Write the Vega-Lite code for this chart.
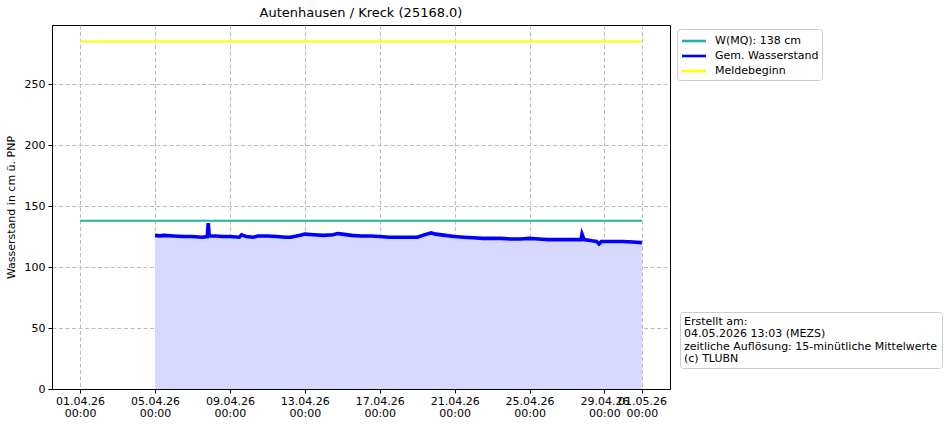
{
  "$schema": "https://vega.github.io/schema/vega-lite/v6.json",
  "description": "Wasserstand Autenhausen / Kreck, April 2026",
  "width": 618,
  "height": 364,
  "autosize": {"type": "none"},
  "padding": {"left": 52, "top": 25, "right": 278, "bottom": 37},
  "background": "white",
  "title": {
    "text": "Autenhausen / Kreck (25168.0)",
    "font": "DejaVu Sans",
    "fontSize": 13,
    "fontWeight": "normal",
    "color": "black",
    "anchor": "middle",
    "offset": 5
  },
  "config": {
    "font": "DejaVu Sans",
    "view": {"stroke": "black", "strokeWidth": 1},
    "axis": {
      "labelFont": "DejaVu Sans",
      "labelFontSize": 11,
      "labelColor": "black",
      "titleFont": "DejaVu Sans",
      "titleFontSize": 11,
      "titleFontWeight": "normal",
      "titleColor": "black",
      "domainColor": "black",
      "tickColor": "black",
      "tickSize": 4,
      "gridColor": "#bbbbbb",
      "gridDash": [4, 2.5],
      "gridWidth": 1
    }
  },
  "datasets": {
    "lines": [
      {"series": "W(MQ): 138 cm", "time": "2026-04-01T00:00:00", "value": 138},
      {"series": "W(MQ): 138 cm", "time": "2026-05-01T00:00:00", "value": 138},
      {"series": "Meldebeginn", "time": "2026-04-01T00:00:00", "value": 285},
      {"series": "Meldebeginn", "time": "2026-05-01T00:00:00", "value": 285},
      {"series": "Gem. Wasserstand", "time": "2026-04-05T00:00:00", "value": 126},
      {"series": "Gem. Wasserstand", "time": "2026-04-05T06:00:00", "value": 125.6},
      {"series": "Gem. Wasserstand", "time": "2026-04-05T12:00:00", "value": 126},
      {"series": "Gem. Wasserstand", "time": "2026-04-06T00:00:00", "value": 125.5},
      {"series": "Gem. Wasserstand", "time": "2026-04-06T12:00:00", "value": 125},
      {"series": "Gem. Wasserstand", "time": "2026-04-07T00:00:00", "value": 125},
      {"series": "Gem. Wasserstand", "time": "2026-04-07T12:00:00", "value": 124.5},
      {"series": "Gem. Wasserstand", "time": "2026-04-07T19:00:00", "value": 125},
      {"series": "Gem. Wasserstand", "time": "2026-04-07T20:15:00", "value": 136},
      {"series": "Gem. Wasserstand", "time": "2026-04-07T21:30:00", "value": 125.5},
      {"series": "Gem. Wasserstand", "time": "2026-04-08T06:00:00", "value": 125.5},
      {"series": "Gem. Wasserstand", "time": "2026-04-08T14:00:00", "value": 125},
      {"series": "Gem. Wasserstand", "time": "2026-04-09T00:00:00", "value": 125},
      {"series": "Gem. Wasserstand", "time": "2026-04-09T12:00:00", "value": 124.5},
      {"series": "Gem. Wasserstand", "time": "2026-04-09T15:00:00", "value": 126.5},
      {"series": "Gem. Wasserstand", "time": "2026-04-09T21:00:00", "value": 125},
      {"series": "Gem. Wasserstand", "time": "2026-04-10T06:00:00", "value": 124.5},
      {"series": "Gem. Wasserstand", "time": "2026-04-10T12:00:00", "value": 125.5},
      {"series": "Gem. Wasserstand", "time": "2026-04-11T00:00:00", "value": 125.5},
      {"series": "Gem. Wasserstand", "time": "2026-04-11T12:00:00", "value": 125},
      {"series": "Gem. Wasserstand", "time": "2026-04-12T00:00:00", "value": 124.5},
      {"series": "Gem. Wasserstand", "time": "2026-04-12T06:00:00", "value": 124.5},
      {"series": "Gem. Wasserstand", "time": "2026-04-12T18:00:00", "value": 126},
      {"series": "Gem. Wasserstand", "time": "2026-04-13T00:00:00", "value": 127},
      {"series": "Gem. Wasserstand", "time": "2026-04-13T12:00:00", "value": 126.5},
      {"series": "Gem. Wasserstand", "time": "2026-04-14T00:00:00", "value": 126},
      {"series": "Gem. Wasserstand", "time": "2026-04-14T12:00:00", "value": 126.5},
      {"series": "Gem. Wasserstand", "time": "2026-04-14T18:00:00", "value": 127.5},
      {"series": "Gem. Wasserstand", "time": "2026-04-15T00:00:00", "value": 127},
      {"series": "Gem. Wasserstand", "time": "2026-04-15T12:00:00", "value": 126},
      {"series": "Gem. Wasserstand", "time": "2026-04-16T00:00:00", "value": 125.5},
      {"series": "Gem. Wasserstand", "time": "2026-04-16T12:00:00", "value": 125.5},
      {"series": "Gem. Wasserstand", "time": "2026-04-17T00:00:00", "value": 125},
      {"series": "Gem. Wasserstand", "time": "2026-04-17T12:00:00", "value": 124.5},
      {"series": "Gem. Wasserstand", "time": "2026-04-18T00:00:00", "value": 124.5},
      {"series": "Gem. Wasserstand", "time": "2026-04-18T12:00:00", "value": 124.5},
      {"series": "Gem. Wasserstand", "time": "2026-04-19T00:00:00", "value": 124.5},
      {"series": "Gem. Wasserstand", "time": "2026-04-19T12:00:00", "value": 127},
      {"series": "Gem. Wasserstand", "time": "2026-04-19T18:00:00", "value": 128},
      {"series": "Gem. Wasserstand", "time": "2026-04-20T00:00:00", "value": 127},
      {"series": "Gem. Wasserstand", "time": "2026-04-20T12:00:00", "value": 126},
      {"series": "Gem. Wasserstand", "time": "2026-04-21T00:00:00", "value": 125},
      {"series": "Gem. Wasserstand", "time": "2026-04-21T12:00:00", "value": 124.5},
      {"series": "Gem. Wasserstand", "time": "2026-04-22T00:00:00", "value": 124},
      {"series": "Gem. Wasserstand", "time": "2026-04-22T12:00:00", "value": 123.5},
      {"series": "Gem. Wasserstand", "time": "2026-04-23T00:00:00", "value": 123.5},
      {"series": "Gem. Wasserstand", "time": "2026-04-23T12:00:00", "value": 123.5},
      {"series": "Gem. Wasserstand", "time": "2026-04-24T00:00:00", "value": 123},
      {"series": "Gem. Wasserstand", "time": "2026-04-24T12:00:00", "value": 123},
      {"series": "Gem. Wasserstand", "time": "2026-04-25T00:00:00", "value": 123.5},
      {"series": "Gem. Wasserstand", "time": "2026-04-25T12:00:00", "value": 123},
      {"series": "Gem. Wasserstand", "time": "2026-04-26T00:00:00", "value": 122.5},
      {"series": "Gem. Wasserstand", "time": "2026-04-26T12:00:00", "value": 122.5},
      {"series": "Gem. Wasserstand", "time": "2026-04-27T00:00:00", "value": 122.5},
      {"series": "Gem. Wasserstand", "time": "2026-04-27T12:00:00", "value": 122.5},
      {"series": "Gem. Wasserstand", "time": "2026-04-27T18:00:00", "value": 122.5},
      {"series": "Gem. Wasserstand", "time": "2026-04-27T19:15:00", "value": 127},
      {"series": "Gem. Wasserstand", "time": "2026-04-27T22:00:00", "value": 122.5},
      {"series": "Gem. Wasserstand", "time": "2026-04-28T08:00:00", "value": 121.5},
      {"series": "Gem. Wasserstand", "time": "2026-04-28T14:00:00", "value": 121},
      {"series": "Gem. Wasserstand", "time": "2026-04-28T17:00:00", "value": 119},
      {"series": "Gem. Wasserstand", "time": "2026-04-28T20:00:00", "value": 121},
      {"series": "Gem. Wasserstand", "time": "2026-04-29T12:00:00", "value": 121},
      {"series": "Gem. Wasserstand", "time": "2026-04-30T00:00:00", "value": 121},
      {"series": "Gem. Wasserstand", "time": "2026-04-30T12:00:00", "value": 120.5},
      {"series": "Gem. Wasserstand", "time": "2026-05-01T00:00:00", "value": 120}
    ],
    "notes": [
      {"note": "Erstellt am:"},
      {"note": "04.05.2026 13:03 (MEZS)"},
      {"note": "zeitliche Auflösung: 15-minütliche Mittelwerte"},
      {"note": "(c) TLUBN"}
    ]
  },
  "layer": [
    {
      "data": {"name": "lines"},
      "transform": [{"filter": "datum.series === 'Gem. Wasserstand'"}],
      "mark": {"type": "area", "color": "#d8d8ff", "opacity": 1},
      "encoding": {
        "x": {
          "field": "time",
          "type": "temporal",
          "title": null,
          "scale": {
            "domain": [
              {"year": 2026, "month": 3, "date": 30, "hours": 12},
              {"year": 2026, "month": 5, "date": 2, "hours": 12}
            ]
          },
          "axis": {
            "values": [
              {"year": 2026, "month": 4, "date": 1},
              {"year": 2026, "month": 4, "date": 5},
              {"year": 2026, "month": 4, "date": 9},
              {"year": 2026, "month": 4, "date": 13},
              {"year": 2026, "month": 4, "date": 17},
              {"year": 2026, "month": 4, "date": 21},
              {"year": 2026, "month": 4, "date": 25},
              {"year": 2026, "month": 4, "date": 29},
              {"year": 2026, "month": 5, "date": 1}
            ],
            "labelExpr": "[timeFormat(datum.value, '%d.%m.%y'), timeFormat(datum.value, '%H:%M')]",
            "labelOverlap": false,
            "labelPadding": 2,
            "labelLineHeight": 12,
            "grid": true
          }
        },
        "y": {
          "field": "value",
          "type": "quantitative",
          "title": "Wasserstand in cm ü. PNP",
          "scale": {"domain": [0, 298.5], "nice": false},
          "axis": {
            "values": [0, 50, 100, 150, 200, 250],
            "grid": true,
            "labelPadding": 3,
            "titlePadding": 8
          }
        }
      }
    },
    {
      "data": {"name": "lines"},
      "mark": {"type": "line", "interpolate": "linear"},
      "encoding": {
        "x": {"field": "time", "type": "temporal"},
        "y": {"field": "value", "type": "quantitative"},
        "color": {
          "field": "series",
          "type": "nominal",
          "scale": {
            "domain": ["W(MQ): 138 cm", "Gem. Wasserstand", "Meldebeginn"],
            "range": ["#20b2aa", "#0000ff", "#ffff00"]
          },
          "legend": {
            "title": null,
            "orient": "none",
            "legendX": 625,
            "legendY": 4,
            "symbolType": "M-1.6,0H1.6",
            "symbolSize": 225,
            "symbolStrokeWidth": 2.6,
            "symbolOffset": 5,
            "labelFont": "DejaVu Sans",
            "labelFontSize": 11,
            "labelColor": "black",
            "labelOffset": 12,
            "rowPadding": 0,
            "padding": 3,
            "strokeColor": "#cccccc",
            "fillColor": "white",
            "cornerRadius": 3
          }
        },
        "strokeWidth": {
          "condition": {"test": "datum.series === 'Gem. Wasserstand'", "value": 3.6},
          "value": 2
        }
      }
    },
    {
      "data": {"name": "notes"},
      "mark": {"type": "point", "opacity": 0},
      "encoding": {
        "shape": {
          "field": "note",
          "type": "nominal",
          "scale": {
            "domain": ["Erstellt am:", "04.05.2026 13:03 (MEZS)", "zeitliche Auflösung: 15-minütliche Mittelwerte", "(c) TLUBN"],
            "range": ["circle", "circle", "circle", "circle"]
          },
          "legend": {
            "title": null,
            "orient": "none",
            "legendX": 628,
            "legendY": 287,
            "symbolSize": 0,
            "symbolOpacity": 0,
            "symbolStrokeWidth": 0,
            "labelFont": "DejaVu Sans",
            "labelFontSize": 11,
            "labelColor": "black",
            "labelLimit": 400,
            "labelOffset": -11,
            "rowPadding": 0.5,
            "padding": 4,
            "strokeColor": "#cccccc",
            "fillColor": "white",
            "cornerRadius": 3
          }
        }
      }
    }
  ]
}
